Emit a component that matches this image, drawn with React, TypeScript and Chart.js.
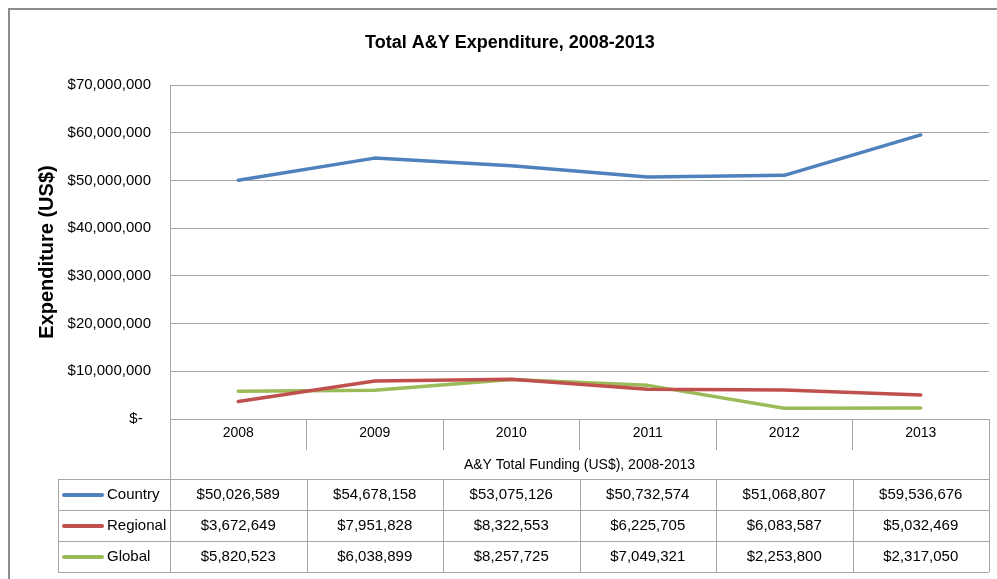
import React, { useEffect, useRef } from "react";
import { Chart, registerables } from "chart.js";

Chart.register(...registerables);

const years = ["2008", "2009", "2010", "2011", "2012", "2013"];
const country = [50026589, 54678158, 53075126, 50732574, 51068807, 59536676];
const regional = [3672649, 7951828, 8322553, 6225705, 6083587, 5032469];
const global = [5820523, 6038899, 8257725, 7049321, 2253800, 2317050];
const seriesNames = ["Country", "Regional", "Global"];
const seriesColors = ["#4F81BD", "#C0504D", "#9BBB59"];
const yTicks = [0, 10000000, 20000000, 30000000, 40000000, 50000000, 60000000, 70000000];

const chartTitle = "Total A&Y Expenditure, 2008-2013";
const yTitle = "Expenditure (US$)";
const xTitle = "A&Y Total Funding (US$), 2008-2013";

const FONT = "'Liberation Sans', Arial, sans-serif";
const GRID = "#a6a6a6";

const money = (v: number) => "$" + v.toLocaleString("en-US");

const decorPlugin = {
  id: "decor",
  afterDraw(chart: any) {
    const ctx = chart.ctx as CanvasRenderingContext2D;
    const xs = chart.scales.x;
    const area = chart.chartArea;
    const n = years.length;
    const step = xs.getPixelForValue(1) - xs.getPixelForValue(0);
    const b: number[] = [];
    for (let i = 0; i <= n; i++) b.push(xs.getPixelForValue(0) - step / 2 + i * step);

    ctx.save();
    // outer frame
    ctx.strokeStyle = "#8c8c8c";
    ctx.lineWidth = 2;
    ctx.strokeRect(9, 9, 1010, 600);

    // title
    ctx.fillStyle = "#000";
    ctx.font = `bold 18px ${FONT}`;
    ctx.textAlign = "center";
    ctx.textBaseline = "middle";
    ctx.fillText(chartTitle, 510, 43);

    // y title
    ctx.save();
    ctx.translate(47, (area.top + area.bottom) / 2);
    ctx.rotate(-Math.PI / 2);
    ctx.font = `bold 20px ${FONT}`;
    ctx.fillText(yTitle, 0, 0);
    ctx.restore();

    // x title
    ctx.font = `14px ${FONT}`;
    ctx.fillText(xTitle, (b[0] + b[n]) / 2, 465);

    // table
    const tTop = 479;
    const rowH = 31;
    const tLeft = 58;
    const tBottom = tTop + rowH * 3;
    ctx.strokeStyle = GRID;
    ctx.lineWidth = 1;
    ctx.beginPath();
    for (let r = 0; r <= 3; r++) {
      const y = Math.round(tTop + r * rowH) + 0.5;
      ctx.moveTo(tLeft, y);
      ctx.lineTo(b[n], y);
    }
    ctx.moveTo(tLeft + 0.5, tTop);
    ctx.lineTo(tLeft + 0.5, tBottom);
    ctx.moveTo(Math.round(b[0]) + 0.5, area.bottom);
    ctx.lineTo(Math.round(b[0]) + 0.5, tBottom);
    ctx.moveTo(Math.round(b[n]) + 0.5, area.bottom);
    ctx.lineTo(Math.round(b[n]) + 0.5, tBottom);
    for (let i = 1; i < n; i++) {
      ctx.moveTo(Math.round(b[i]) + 0.5, tTop);
      ctx.lineTo(Math.round(b[i]) + 0.5, tBottom);
    }
    ctx.stroke();

    const all = [country, regional, global];
    for (let r = 0; r < 3; r++) {
      const cy = tTop + r * rowH + rowH / 2 + 0.5;
      ctx.strokeStyle = seriesColors[r];
      ctx.lineWidth = 4;
      ctx.lineCap = "round";
      ctx.beginPath();
      ctx.moveTo(64, cy);
      ctx.lineTo(102, cy);
      ctx.stroke();
      ctx.fillStyle = "#000";
      ctx.font = `15px ${FONT}`;
      ctx.textAlign = "left";
      ctx.fillText(seriesNames[r], 107, cy);
      ctx.textAlign = "center";
      for (let i = 0; i < n; i++) {
        ctx.fillText(money(all[r][i]), xs.getPixelForValue(i), cy);
      }
    }
    ctx.restore();
  },
};

export default function App() {
  const ref = useRef<HTMLCanvasElement>(null);
  useEffect(() => {
    if (!ref.current) return;
    const chart = new Chart(ref.current, {
      type: "line",
      data: {
        labels: years,
        datasets: [country, regional, global].map((d, i) => ({
          label: seriesNames[i],
          data: d,
          borderColor: seriesColors[i],
          backgroundColor: seriesColors[i],
          borderWidth: 3.5,
          pointRadius: 0,
          tension: 0,
          borderCapStyle: "round" as const,
          borderJoinStyle: "round" as const,
        })),
      },
      options: {
        responsive: false,
        animation: false,
        devicePixelRatio: 1,
        layout: { padding: { top: 85, right: 8, left: 0, bottom: 0 } },
        plugins: {
          legend: { display: false },
          title: { display: false },
          tooltip: { enabled: false },
        },
        scales: {
          x: {
            type: "category",
            offset: true,
            grid: {
              offset: true,
              drawOnChartArea: false,
              drawTicks: true,
              tickLength: 31,
              color: GRID,
            },
            border: { display: true, color: GRID },
            ticks: {
              color: "#000",
              font: { family: FONT, size: 14 },
              padding: -25,
              maxRotation: 0,
            },
            afterFit: (s: any) => {
              s.height = 160;
            },
          },
          y: {
            min: 0,
            max: 70000000,
            afterBuildTicks: (s: any) => {
              s.ticks = yTicks.map((v) => ({ value: v }));
            },
            grid: { color: GRID, drawTicks: false },
            border: { display: true, color: GRID },
            ticks: {
              color: "#000",
              font: { family: FONT, size: 15 },
              padding: 19,
              callback: (v: any) => (Number(v) === 0 ? "$-  " : money(Number(v))),
            },
            afterFit: (s: any) => {
              s.width = 170;
            },
          },
        },
      },
      plugins: [decorPlugin],
    });
    return () => chart.destroy();
  }, []);
  return (
    <div style={{ position: "fixed", left: 0, top: 0, width: 997, height: 579, background: "#fff" }}>
      <canvas ref={ref} width={997} height={579} style={{ display: "block" }} />
    </div>
  );
}
